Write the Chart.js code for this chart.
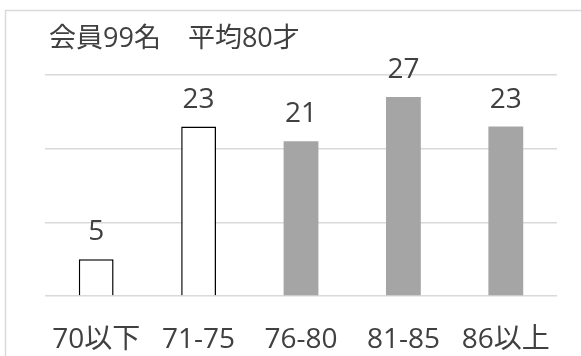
<!DOCTYPE html>
<html>
<head>
<meta charset="utf-8">
<script src="https://cdn.jsdelivr.net/npm/chart.js@4/dist/chart.umd.min.js"></script>
<style>
  html, body { margin: 0; padding: 0; background: #fff; }
  #wrap { width: 581px; height: 356px; position: relative; }
</style>
</head>
<body>
<div id="wrap"><canvas id="c" width="581" height="356"></canvas></div>
<script>
// Age bands and member counts
const categories = ['70以下', '71-75', '76-80', '81-85', '86以上'];
const members = [5, 23, 21, 27, 23];
const titleText = '会員99名　平均80才';
const yTicks = [0, 10, 20, 30];

const FONT = '"Open Sans", "Noto Sans CJK JP", sans-serif';
const TEXT = '#404040';

// first two bands drawn as outlined bars, the rest solid grey
const fills = members.map((_, i) => i < 2 ? '#ffffff' : '#a5a5a5');
const strokes = members.map((_, i) => i < 2 ? '#000000' : '#a5a5a5');
const strokeW = members.map((_, i) => i < 2 ? 1.5 : 0);

const frameAndText = {
  id: 'frameAndText',
  beforeDraw(chart) {
    const ctx = chart.ctx;
    ctx.save();
    ctx.fillStyle = '#fff';
    ctx.fillRect(0, 0, chart.width, chart.height);
    ctx.strokeStyle = '#d9d9d9';
    ctx.lineWidth = 1.5;
    ctx.strokeRect(5.5, 10.5, chart.width + 20, chart.height + 20);
    ctx.restore();
  },
  afterDatasetsDraw(chart) {
    const ctx = chart.ctx;
    ctx.save();
    ctx.fillStyle = TEXT;
    ctx.font = '27px ' + FONT;
    ctx.textAlign = 'left';
    ctx.textBaseline = 'alphabetic';
    ctx.fillText(titleText, 49, 47);
    ctx.font = '28px ' + FONT;
    ctx.textAlign = 'center';
    const meta = chart.getDatasetMeta(0);
    meta.data.forEach((bar, i) => {
      ctx.fillText(String(members[i]), bar.x, bar.y - 19);
    });
    ctx.restore();
  }
};

new Chart(document.getElementById('c'), {
  type: 'bar',
  data: {
    labels: categories,
    datasets: [{
      data: members,
      backgroundColor: fills,
      borderColor: strokes,
      borderWidth: strokeW,
      barPercentage: 0.34,
      categoryPercentage: 1.0
    }]
  },
  options: {
    responsive: false,
    animation: false,
    devicePixelRatio: 1,
    layout: { padding: { left: 45, right: 24, top: 75, bottom: 0 } },
    plugins: { legend: { display: false }, tooltip: { enabled: false } },
    scales: {
      x: {
        grid: { display: false, drawTicks: false },
        border: { display: false },
        ticks: { color: TEXT, font: { family: FONT, size: 28 }, padding: 27 },
        afterFit(axis) { axis.height = 60; }
      },
      y: {
        min: 0, max: 30,
        afterBuildTicks(axis) { axis.ticks = yTicks.map(v => ({ value: v })); },
        afterFit(axis) { axis.width = 0; },
        grid: { color: '#d9d9d9', lineWidth: 1.5, drawTicks: false },
        border: { display: false },
        ticks: { display: false }
      }
    }
  },
  plugins: [frameAndText]
});
</script>
</body>
</html>
